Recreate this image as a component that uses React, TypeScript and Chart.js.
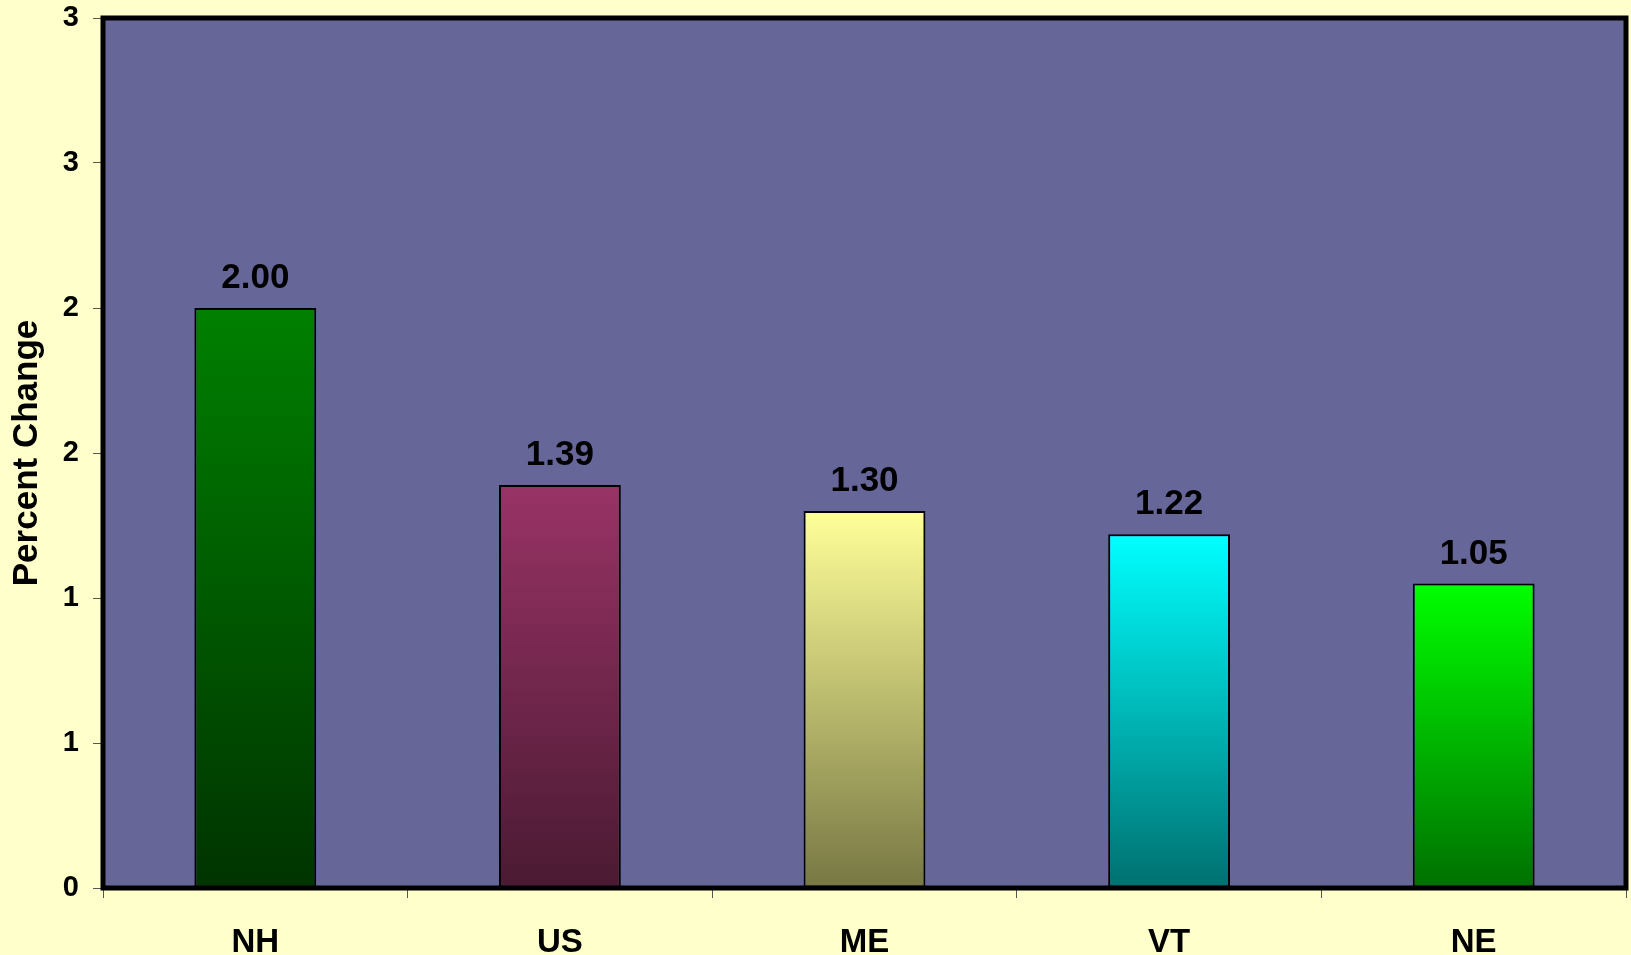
import React, { useEffect, useRef } from "react";
import { Chart, registerables } from "chart.js";

Chart.register(...registerables);

const categories = ["NH", "US", "ME", "VT", "NE"];
const values = [2.0, 1.39, 1.3, 1.22, 1.05];
const topColors = ["#008000", "#993366", "#FFFF99", "#00FFFF", "#00FF00"];
const bottomColors = ["#003300", "#4A1A32", "#777744", "#007070", "#007000"];
const yTickLabels = ["0", "1", "1", "2", "2", "3", "3"];

const FONT = "'Liberation Sans', Arial, Helvetica, sans-serif";

export default function App() {
  const ref = useRef<HTMLCanvasElement | null>(null);

  useEffect(() => {
    const canvas = ref.current;
    if (!canvas) return;

    const plotBg = {
      id: "plotBg",
      beforeDraw(chart: any) {
        const { ctx, chartArea: a } = chart;
        ctx.save();
        ctx.fillStyle = "#666699";
        ctx.fillRect(a.left, a.top, a.right - a.left, a.bottom - a.top);
        ctx.restore();
      },
      afterDatasetsDraw(chart: any) {
        const { ctx, chartArea: a } = chart;
        ctx.save();
        const meta = chart.getDatasetMeta(0);
        ctx.font = `bold 35px ${FONT}`;
        ctx.fillStyle = "#000";
        ctx.textAlign = "center";
        ctx.textBaseline = "bottom";
        meta.data.forEach((el: any, i: number) => {
          ctx.fillText(values[i].toFixed(2), el.x, el.y - 12);
        });
        ctx.strokeStyle = "#000";
        ctx.lineWidth = 5;
        ctx.strokeRect(a.left, a.top, a.right - a.left, a.bottom - a.top);
        ctx.restore();
      },
    };

    const chart = new Chart(canvas, {
      type: "bar",
      data: {
        labels: categories,
        datasets: [
          {
            data: values,
            backgroundColor: (c: any) => {
              const ch = c.chart;
              const i = c.dataIndex;
              if (!ch.chartArea || !ch.scales || !ch.scales.y || i === undefined) return topColors[i ?? 0];
              const y = ch.scales.y;
              const yTop = y.getPixelForValue(values[i]);
              const yBot = y.getPixelForValue(0);
              const g = ch.ctx.createLinearGradient(0, yTop, 0, yBot);
              g.addColorStop(0, topColors[i]);
              g.addColorStop(1, bottomColors[i]);
              return g;
            },
            borderColor: "#000",
            borderWidth: 2,
            borderSkipped: false,
            categoryPercentage: 1,
            barPercentage: 0.4,
          },
        ],
      },
      options: {
        animation: false,
        responsive: false,
        maintainAspectRatio: false,
        events: [],
        layout: { padding: { left: 0, right: 5, top: 18, bottom: 0 } },
        plugins: {
          legend: { display: false },
          tooltip: { enabled: false },
        },
        scales: {
          x: {
            afterFit(scale: any) {
              scale.height = 67;
            },
            grid: {
              offset: true,
              drawOnChartArea: false,
              tickLength: 10,
              color: "#555",
              lineWidth: 1,
            },
            border: { display: false },
            ticks: {
              color: "#000",
              font: { family: FONT, size: 33, weight: "bold" },
              padding: 25,
              maxRotation: 0,
              autoSkip: false,
            },
          },
          y: {
            min: 0,
            max: 3,
            afterFit(scale: any) {
              scale.width = 103;
              scale.paddingTop = 0;
              scale.paddingBottom = 0;
            },
            grid: {
              drawOnChartArea: false,
              tickLength: 10,
              color: "#555",
              lineWidth: 1,
            },
            border: { display: false },
            ticks: {
              stepSize: 0.5,
              color: "#000",
              font: { family: FONT, size: 29, weight: "bold" },
              padding: 14,
              callback: (_v: any, i: number) => yTickLabels[i],
            },
            title: {
              display: true,
              text: "Percent Change",
              color: "#000",
              font: { family: FONT, size: 35, weight: "bold" },
              padding: { top: 6, bottom: 0 },
            },
          },
        },
      },
      plugins: [plotBg],
    });

    return () => chart.destroy();
  }, []);

  return (
    <div
      style={{
        position: "absolute",
        left: 0,
        top: 0,
        width: 1631,
        height: 955,
        background: "#FFFFCC",
        overflow: "hidden",
      }}
    >
      <canvas ref={ref} width={1631} height={955} style={{ display: "block" }} />
    </div>
  );
}
